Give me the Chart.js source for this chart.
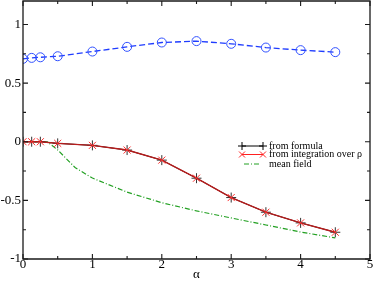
<!DOCTYPE html>
<html><head><meta charset="utf-8">
<script src="https://cdn.jsdelivr.net/npm/chart.js@4/dist/chart.umd.min.js"></script>
<style>html,body{margin:0;padding:0;background:#fff;overflow:hidden}#w{width:374px;height:282px}</style>
</head><body><div id="w"><canvas id="c"></canvas></div>
<script>
const alphaPts = [0, 0.125, 0.25, 0.5, 1, 1.5, 2, 2.5, 3, 3.5, 4, 4.5];
const upperVals = [0.707, 0.715, 0.72, 0.729, 0.769, 0.809, 0.846, 0.858, 0.835, 0.803, 0.781, 0.764];
const formulaVals = [0, 0, 0, -0.014, -0.031, -0.071, -0.157, -0.311, -0.476, -0.601, -0.692, -0.772];
const integrationVals = [0, 0, 0, -0.014, -0.031, -0.071, -0.157, -0.311, -0.476, -0.601, -0.692, -0.772];
const meanAlpha = [0, 0.125, 0.25, 0.35, 0.5, 0.75, 1, 1.5, 2, 2.5, 3, 3.5, 4, 4.5];
const meanVals = [0, 0, 0, 0, -0.07, -0.22, -0.31, -0.43, -0.52, -0.59, -0.65, -0.71, -0.77, -0.82];
const xTicks = [0, 1, 2, 3, 4, 5];
const yTicks = [-1, -0.5, 0, 0.5, 1];
const xTitle = 'α';
const legendLabels = ['from formula', 'from integration over ρ', 'mean field'];

const pts = (xs, ys) => xs.map((x, i) => ({x, y: ys[i]}));
const serif = '"Liberation Serif", "DejaVu Serif", serif';

const frame = {
  id: 'frame',
  afterDraw(chart) {
    const ctx = chart.ctx, a = chart.chartArea, x = chart.scales.x, y = chart.scales.y;
    const L = Math.round(a.left), R = Math.round(a.right), T = Math.round(a.top), B = Math.round(a.bottom);
    ctx.save();
    ctx.setLineDash([]);
    ctx.lineWidth = 1.3;
    ctx.strokeStyle = '#1a1a1a';
    ctx.beginPath();
    ctx.moveTo(L, T); ctx.lineTo(R, T); ctx.lineTo(R, B); ctx.lineTo(L, B); ctx.closePath();
    ctx.stroke();
    ctx.lineWidth = 1.1;
    ctx.beginPath();
    for (let v = 0; v <= 5.001; v += 0.5) {
      const px = x.getPixelForValue(v);
      const len = (Math.abs(v - Math.round(v)) < 1e-6) ? 5 : 3;
      ctx.moveTo(px, B); ctx.lineTo(px, B - len);
      ctx.moveTo(px, T); ctx.lineTo(px, T + len);
    }
    for (let v = -1; v <= 1.2; v += 0.25) {
      const py = y.getPixelForValue(v);
      const len = (Math.abs(v * 2 - Math.round(v * 2)) < 1e-6) ? 5 : 3;
      ctx.moveTo(L, py); ctx.lineTo(L + len, py);
      ctx.moveTo(R, py); ctx.lineTo(R - len, py);
    }
    ctx.stroke();
    ctx.fillStyle = '#000';
    ctx.font = '13px ' + serif;
    ctx.textAlign = 'right'; ctx.textBaseline = 'middle';
    yTicks.forEach(v => ctx.fillText(String(v), L - 2, y.getPixelForValue(v)));
    ctx.textAlign = 'center';
    xTicks.forEach(v => ctx.fillText(String(v), x.getPixelForValue(v), B + 6));
    ctx.fillText(xTitle, x.getPixelForValue(2.5), B + 16);
    const lx0 = 242, lx1 = 263, tx = 269, rows = [146, 154.5, 164];
    ctx.font = '10px ' + serif;
    ctx.textAlign = 'left';
    ctx.lineWidth = 1;
    ctx.strokeStyle = '#000';
    ctx.beginPath(); ctx.moveTo(lx0, rows[0]); ctx.lineTo(lx1, rows[0]);
    [lx0, lx1].forEach(p => { ctx.moveTo(p - 4, rows[0]); ctx.lineTo(p + 4, rows[0]); ctx.moveTo(p, rows[0] - 4); ctx.lineTo(p, rows[0] + 4); });
    ctx.stroke();
    ctx.strokeStyle = '#ff2020';
    ctx.beginPath(); ctx.moveTo(lx0, rows[1]); ctx.lineTo(lx1, rows[1]);
    [lx0, lx1].forEach(p => { ctx.moveTo(p - 3, rows[1] - 3); ctx.lineTo(p + 3, rows[1] + 3); ctx.moveTo(p - 3, rows[1] + 3); ctx.lineTo(p + 3, rows[1] - 3); });
    ctx.stroke();
    ctx.strokeStyle = '#22a022';
    ctx.setLineDash([5, 2, 1, 2]);
    ctx.beginPath(); ctx.moveTo(lx0 + 2, rows[2]); ctx.lineTo(lx1 - 2, rows[2]); ctx.stroke();
    ctx.setLineDash([]);
    legendLabels.forEach((t, i) => ctx.fillText(t, tx, rows[i]));
    ctx.restore();
  }
};

const zeroPad = s => { s.paddingTop = 0; s.paddingBottom = 0; s.paddingLeft = 0; s.paddingRight = 0; };

new Chart(document.getElementById('c'), {
  type: 'scatter',
  data: {
    datasets: [
      {data: pts(alphaPts, upperVals), showLine: true, borderColor: '#1f3cff', borderWidth: 1.3, borderDash: [6, 3],
       pointStyle: 'circle', pointRadius: 4.5, pointBorderColor: '#3050ff', pointBackgroundColor: 'rgba(0,0,0,0)', pointBorderWidth: 1},
      {data: pts(alphaPts, integrationVals), showLine: true, borderColor: '#b81c1c', borderWidth: 1.4,
       pointStyle: 'crossRot', pointRadius: 5, pointBorderColor: '#ff3030', pointBorderWidth: 1},
      {data: pts(alphaPts, formulaVals), showLine: true, borderColor: '#000', borderWidth: 1,
       pointStyle: 'cross', pointRadius: 5, pointBorderColor: '#333', pointBorderWidth: 1},
      {data: pts(meanAlpha, meanVals), showLine: true, borderColor: '#22a022', borderWidth: 1.2, borderDash: [5, 2, 1, 2],
       pointRadius: 0}
    ]
  },
  options: {
    responsive: true, maintainAspectRatio: false, animation: false,
    layout: {autoPadding: false, padding: {top: 1, right: 4, left: 23, bottom: 23}},
    plugins: {legend: {display: false}, tooltip: {enabled: false}},
    scales: {
      x: {type: 'linear', min: 0, max: 5,
        afterFit: s => { s.height = 0; zeroPad(s); },
        grid: {display: false}, border: {display: false},
        ticks: {display: false}, title: {display: false}
      },
      y: {type: 'linear', min: -1, max: 1.2,
        afterFit: s => { s.width = 0; zeroPad(s); },
        grid: {display: false}, border: {display: false},
        ticks: {display: false}, title: {display: false}
      }
    }
  },
  plugins: [frame]
});
</script>
</body></html>
